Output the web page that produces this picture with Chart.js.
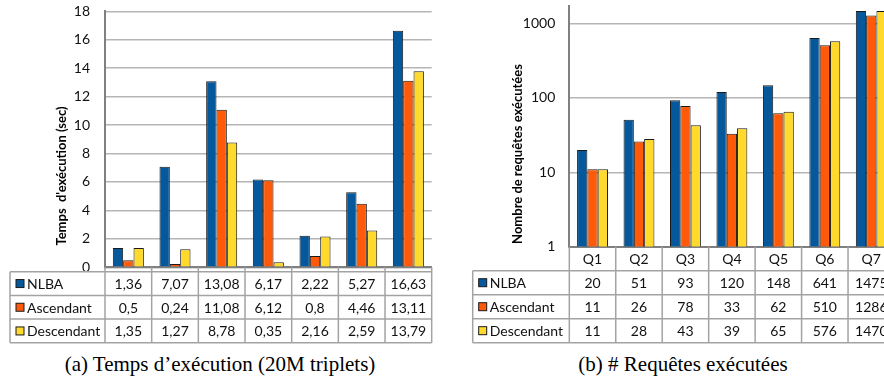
<!DOCTYPE html>
<html>
<head>
<meta charset="utf-8">
<script src="https://cdn.jsdelivr.net/npm/chart.js@4.4.1/dist/chart.umd.min.js"></script>
<style>
  body { margin: 0; width: 884px; height: 381px; overflow: hidden; background: #fff; position: relative; }
  #chart-time { position: absolute; left: 0; top: 0; }
  #chart-count { position: absolute; left: 440px; top: 0; }
  .caption { position: absolute; top: 352px; font-family: "Liberation Serif", serif; font-size: 21px; color: #000; white-space: nowrap; transform: translateX(-50%); }
</style>
</head>
<body>
<canvas id="chart-time" width="440" height="350"></canvas>
<canvas id="chart-count" width="460" height="350"></canvas>
<div class="caption" style="left:220px">(a) Temps d’exécution (20M triplets)</div>
<div class="caption" style="left:683px">(b) # Requêtes exécutées</div>
<script>
const queries = ['Q1', 'Q2', 'Q3', 'Q4', 'Q5', 'Q6', 'Q7'];
const seriesNames = ['NLBA', 'Ascendant', 'Descendant'];
const seriesColors = ['#05589b', '#ff5a0a', '#ffd92c'];

// (a) temps d'execution en secondes
const timeNLBA = [1.36, 7.07, 13.08, 6.17, 2.22, 5.27, 16.63];
const timeAscendant = [0.5, 0.24, 11.08, 6.12, 0.8, 4.46, 13.11];
const timeDescendant = [1.35, 1.27, 8.78, 0.35, 2.16, 2.59, 13.79];

// (b) nombre de requetes executees
const countNLBA = [20, 51, 93, 120, 148, 641, 1475];
const countAscendant = [11, 26, 78, 33, 62, 510, 1286];
const countDescendant = [11, 28, 43, 39, 65, 576, 1470];

const timeTicks = [0, 2, 4, 6, 8, 10, 12, 14, 16, 18];
const countTicks = [1, 10, 100, 1000];

const FONT = 'Lato';
const LINE = '#a3a3a3';

// draws the data table under the plot, columns follow the x scale
const dataTable = {
  id: 'dataTable',
  afterDraw(chart, args, opts) {
    const ctx = chart.ctx;
    const x = chart.scales.x;
    const n = chart.data.labels.length;
    const step = x.getPixelForValue(1) - x.getPixelForValue(0);
    const colLeft = x.getPixelForValue(0) - step / 2;
    const colRight = colLeft + step * n;
    const bottom = chart.chartArea.bottom;
    const top = opts.top;
    const rowH = opts.rowH;
    const rows = chart.data.datasets;
    const tableBottom = top + rowH * rows.length;

    ctx.save();
    ctx.strokeStyle = LINE;
    ctx.lineWidth = 1.5;
    ctx.fillStyle = '#111';
    ctx.font = '14px ' + FONT;
    ctx.textBaseline = 'middle';

    // header row with category labels (right chart only)
    if (opts.header) {
      ctx.textAlign = 'center';
      chart.data.labels.forEach((lab, i) => {
        ctx.fillText(lab, x.getPixelForValue(i), (bottom + top) / 2 + 1);
      });
    }

    // vertical lines
    for (let i = 0; i <= n; i++) {
      const px = colLeft + step * i;
      ctx.beginPath();
      ctx.moveTo(px, bottom);
      ctx.lineTo(px, tableBottom);
      ctx.stroke();
    }
    ctx.beginPath();
    ctx.moveTo(opts.left, top);
    ctx.lineTo(opts.left, tableBottom);
    ctx.stroke();

    // horizontal lines
    for (let r = 0; r <= rows.length; r++) {
      const py = top + rowH * r;
      ctx.beginPath();
      ctx.moveTo(opts.left, py);
      ctx.lineTo(colRight, py);
      ctx.stroke();
    }

    rows.forEach((ds, r) => {
      const cy = top + rowH * r + rowH / 2;
      // legend key
      ctx.fillStyle = ds.backgroundColor;
      ctx.fillRect(opts.left + 6, cy - 4, 8, 8);
      ctx.strokeStyle = '#1a1a1a';
      ctx.lineWidth = 1;
      ctx.strokeRect(opts.left + 6, cy - 4, 8, 8);
      ctx.fillStyle = '#111';
      ctx.textAlign = 'left';
      ctx.fillText(ds.label, opts.left + 17, cy + 1);
      ctx.textAlign = 'center';
      ds.data.forEach((v, i) => {
        ctx.fillText(opts.format(v), x.getPixelForValue(i), cy + 1);
      });
    });

    // y axis title, centred lower than the plot like the original
    ctx.save();
    ctx.translate(opts.titleX, opts.titleY);
    ctx.rotate(-Math.PI / 2);
    ctx.font = 'bold 13px ' + FONT;
    ctx.fillStyle = '#000';
    ctx.textAlign = 'center';
    ctx.fillText(opts.title, 0, 0);
    ctx.restore();

    ctx.restore();
  }
};

function makeDatasets(values) {
  return values.map((data, i) => ({
    label: seriesNames[i],
    data: data,
    backgroundColor: seriesColors[i],
    borderColor: '#1a1a1a',
    borderWidth: 1,
    categoryPercentage: 0.665,
    barPercentage: 1.0
  }));
}

const xHidden = {
  grid: { display: false },
  border: { display: true, color: '#808080', width: 2 },
  ticks: { display: false },
  afterFit: s => { s.height = 0; s.paddingLeft = 0; s.paddingRight = 0; }
};

new Chart(document.getElementById('chart-time'), {
  type: 'bar',
  data: {
    labels: queries,
    datasets: makeDatasets([timeNLBA, timeAscendant, timeDescendant])
  },
  options: {
    responsive: false,
    animation: false,
    layout: { padding: { left: 0, right: 8.3, top: 11.3, bottom: 82.7 } },
    plugins: {
      legend: { display: false },
      tooltip: { enabled: false },
      dataTable: {
        top: 271.7, rowH: 23.7, left: 10, header: false,
        format: v => String(v).replace('.', ','),
        title: "Temps  d'exécution (sec)", titleX: 62, titleY: 176
      }
    },
    scales: {
      x: xHidden,
      y: {
        min: 0,
        max: 18,
        afterBuildTicks: s => { s.ticks = timeTicks.map(v => ({ value: v })); },
        afterFit: s => { s.width = 105; s.paddingTop = 0; s.paddingBottom = 0; },
        grid: { color: '#b5b5b5', lineWidth: 1.5, drawTicks: false },
        border: { color: '#808080', width: 2 },
        ticks: { color: '#111', padding: 15, font: { family: FONT, size: 14 } }
      }
    }
  },
  plugins: [dataTable]
});

new Chart(document.getElementById('chart-count'), {
  type: 'bar',
  data: {
    labels: queries,
    datasets: makeDatasets([countNLBA, countAscendant, countDescendant])
  },
  options: {
    responsive: false,
    animation: false,
    layout: { padding: { left: 0, right: 5.5, top: 6, bottom: 103.3 } },
    plugins: {
      legend: { display: false },
      tooltip: { enabled: false },
      dataTable: {
        top: 270.7, rowH: 24, left: 32.7, header: true,
        format: v => String(v),
        title: 'Nombre de requêtes exécutées', titleX: 78, titleY: 154
      }
    },
    scales: {
      x: xHidden,
      y: {
        type: 'logarithmic',
        min: 1,
        max: 1720,
        afterBuildTicks: s => { s.ticks = countTicks.map(v => ({ value: v })); },
        afterFit: s => { s.width = 129.3; s.paddingTop = 0; s.paddingBottom = 0; },
        grid: { color: '#b5b5b5', lineWidth: 1.5, drawTicks: false },
        border: { color: '#808080', width: 2 },
        ticks: { color: '#111', padding: 14, font: { family: FONT, size: 14 }, callback: v => String(v) }
      }
    }
  },
  plugins: [dataTable]
});
</script>
</body>
</html>
